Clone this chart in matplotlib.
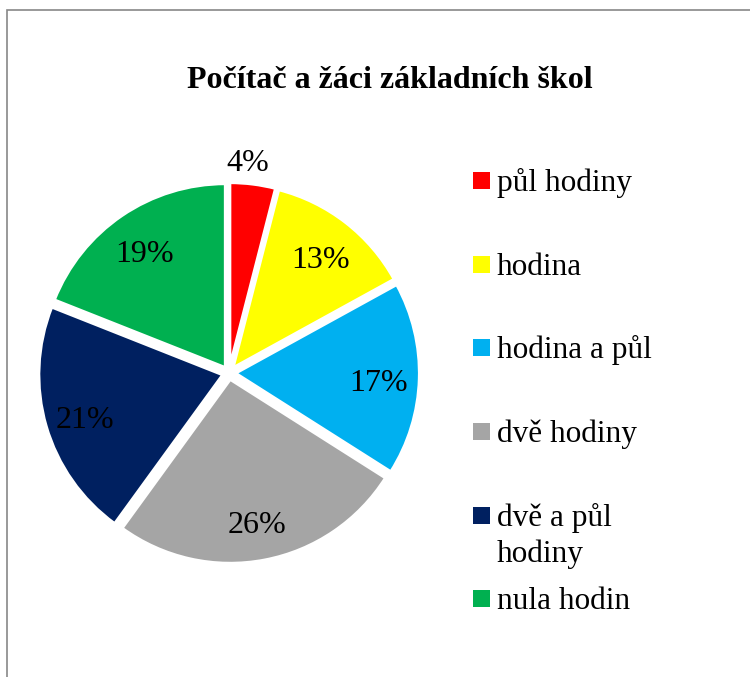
import numpy as np
import matplotlib.pyplot as plt
from matplotlib.patches import Rectangle

# Data
categories = ['půl hodiny', 'hodina', 'hodina a půl', 'dvě hodiny', 'dvě a půl\nhodiny', 'nula hodin']
shares = [4, 13, 17, 26, 21, 19]
colors = ['#FF0000', '#FFFF00', '#00B0F0', '#A5A5A5', '#002060', '#00B050']

plt.rcParams['font.family'] = ['Liberation Serif', 'DejaVu Serif']

W, H = 750, 677
fig = plt.figure(figsize=(W / 100, H / 100), dpi=100)

# chart border (extends past right and bottom edges)
fig.add_artist(Rectangle((7 / W, -0.1), 1.2, 1 - 10 / H + 0.1, transform=fig.transFigure,
                         fill=False, edgecolor='#878787', linewidth=1.2))

# pie axes: centre (229, 373) px, radius 184 px
cx, cy, r = 229, 373, 184
half = 1.15 * r
ax = fig.add_axes([(cx - half) / W, (H - cy - half) / H, 2 * half / W, 2 * half / H])

explode = [0.035] * len(shares)
wedges, texts, autotexts = ax.pie(shares, colors=colors, startangle=90, counterclock=False,
                                  explode=explode, autopct='%1.0f%%', pctdistance=0.78,
                                  radius=1.0, frame=True,
                                  wedgeprops=dict(edgecolor='white', linewidth=2.2),
                                  textprops=dict(fontsize=23, color='black'))
ax.set_xlim(-1.15, 1.15)
ax.set_ylim(-1.15, 1.15)
ax.set_aspect('equal')
ax.axis('off')

# Excel places the labels a little lower
for t in autotexts:
    x, y = t.get_position()
    t.set_position((x, y - 0.03))

# small slice label sits outside the pie
w0 = wedges[0]
mid = np.deg2rad((w0.theta1 + w0.theta2) / 2)
autotexts[0].set_position((1.15 * np.cos(mid) - 0.04, 1.15 * np.sin(mid)))

# title
fig.text(390 / W, 1 - 88 / H, 'Počítač a žáci základních škol', ha='center', va='baseline',
         fontsize=23, fontweight='bold')

# legend (Excel-like layout)
legend_baselines = [191, 275, 358, 442, 526, 609]
for lab, col, yb in zip(categories, colors, legend_baselines):
    fig.add_artist(Rectangle((473 / W, 1 - (yb - 2) / H), 17 / W, 17 / H,
                             transform=fig.transFigure, facecolor=col, edgecolor='none'))
    lines = lab.split('\n')
    for k, line in enumerate(lines):
        fig.text(497 / W, 1 - (yb + 36 * k) / H, line, ha='left', va='baseline', fontsize=22.5)

fig.savefig('out.png', dpi=100)
